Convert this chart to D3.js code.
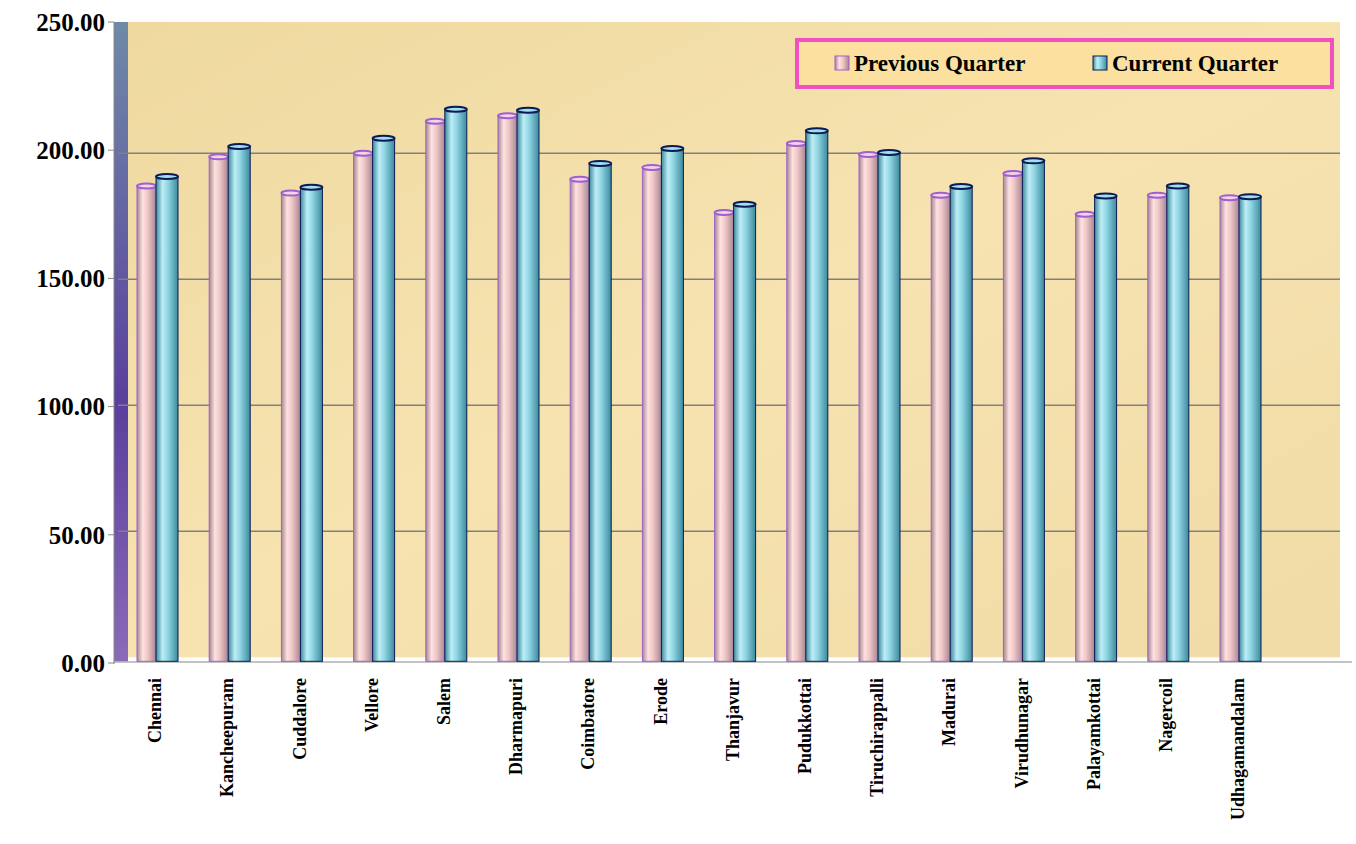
<!DOCTYPE html><html><head><meta charset="utf-8"><script src="https://cdn.jsdelivr.net/npm/d3@7"></script>
<style>body{margin:0;background:#fff}</style></head><body><svg id="c" width="1356" height="844"></svg>
<script>
const categories=["Chennai","Kancheepuram","Cuddalore","Vellore","Salem","Dharmapuri","Coimbatore","Erode","Thanjavur","Pudukkottai","Tiruchirappalli","Madurai","Virudhunagar","Palayamkottai","Nagercoil","Udhagamandalam"];
const previousQuarter=[187.0,198.6,184.2,200.0,212.7,214.9,189.7,194.4,176.5,203.9,199.5,183.4,192.0,175.8,183.4,182.4];
const currentQuarter=[190.8,202.7,186.5,206.0,217.5,217.1,196.0,201.9,179.8,208.9,200.3,186.8,197.0,183.1,187.0,182.8];
const yTicks=[0,50,100,150,200,250];
const seriesNames=["Previous Quarter","Current Quarter"];

const svg=d3.select("#c");
const defs=svg.append("defs");
const bg=defs.append("linearGradient").attr("id","bg").attr("x1",0).attr("y1",0).attr("x2",1).attr("y2",1);
bg.append("stop").attr("offset",0).attr("stop-color","#efd9a0");
bg.append("stop").attr("offset",0.5).attr("stop-color","#f6e3b0");
bg.append("stop").attr("offset",1).attr("stop-color","#f1dba6");
const wall=defs.append("linearGradient").attr("id","wall").attr("x1",0).attr("y1",0).attr("x2",0).attr("y2",1);
wall.append("stop").attr("offset",0).attr("stop-color","#6f8aa8");
wall.append("stop").attr("offset",0.6).attr("stop-color","#5a3f9e");
wall.append("stop").attr("offset",1).attr("stop-color","#8a6ab8");
function cyl(id,dark,mid,light){const g=defs.append("linearGradient").attr("id",id).attr("x1",0).attr("x2",1).attr("y1",0).attr("y2",0);
 [[0,dark],[0.3,light],[0.55,mid],[1,dark]].forEach(s=>g.append("stop").attr("offset",s[0]).attr("stop-color",s[1]));}
cyl("pk","#a88690","#f0c8c8","#fde2e0");
cyl("bl","#3b8a9c","#8fd4e2","#bdeef6");

const x0=118,yBot=657.3,step=72.2;
const x=d3.scaleBand().domain(categories).range([x0,x0+step*16]).paddingInner(0).paddingOuter(0);
const y=d3.scaleLinear().domain([0,250]).range([yBot,27.3]);
const yLab=d3.scaleLinear().domain([0,250]).range([663,22]);

svg.append("rect").attr("x",x0+10).attr("y",22).attr("width",1340-x0-10).attr("height",yBot-22).attr("fill","url(#bg)");
svg.append("rect").attr("x",x0-4).attr("y",22).attr("width",14).attr("height",yBot-18).attr("fill","url(#wall)");
svg.append("g").selectAll("line").data(yTicks.slice(1,5)).join("line")
 .attr("x1",x0).attr("x2",1340).attr("y1",d=>y(d)).attr("y2",d=>y(d)).attr("stroke","#808080").attr("stroke-width",1.5);
svg.append("line").attr("x1",x0-4).attr("x2",x0-4).attr("y1",22).attr("y2",664).attr("stroke","#888");
svg.append("line").attr("x1",x0-4).attr("x2",1352).attr("y1",662).attr("y2",662).attr("stroke","#888");
svg.append("g").selectAll("line").data(yTicks).join("line").attr("x1",x0-10).attr("x2",x0-4).attr("y1",d=>yLab(d)).attr("y2",d=>yLab(d)).attr("stroke","#888");
svg.append("g").selectAll("text").data(yTicks).join("text").attr("x",105).attr("y",d=>yLab(d)).attr("dy","0.35em")
 .attr("text-anchor","end").attr("font-family","Liberation Serif").attr("font-weight","bold").attr("font-size",25).text(d=>d.toFixed(2));
svg.append("g").selectAll("text").data(categories).join("text")
 .attr("transform",d=>`translate(${x(d)+x.bandwidth()/2+7},678) rotate(-90)`).attr("text-anchor","end")
 .attr("font-family","Liberation Serif").attr("font-weight","bold").attr("font-size",18).text(d=>d);

function bars(vals,off,w,fill,stroke){
 const g=svg.append("g");
 g.selectAll("rect").data(categories).join("rect").attr("x",d=>x(d)+off).attr("width",w)
  .attr("y",(d,i)=>y(vals[i])).attr("height",(d,i)=>yBot+4-y(vals[i])).attr("fill",fill).attr("stroke",stroke).attr("stroke-width",1);
 g.selectAll("ellipse").data(categories).join("ellipse").attr("cx",d=>x(d)+off+w/2).attr("cy",(d,i)=>y(vals[i]))
  .attr("rx",w/2).attr("ry",2.5).attr("fill",stroke==="#a060d0"?"#f4d4e4":"#9fe0ec").attr("stroke",stroke).attr("stroke-width",2);
}
bars(previousQuarter,19,19,"url(#pk)","#a060d0");
bars(currentQuarter,38,22,"url(#bl)","#0d1a55");

const lg=svg.append("g");
lg.append("rect").attr("x",797).attr("y",40).attr("width",535).attr("height",47).attr("fill","#fbe0a0").attr("stroke","#f050c0").attr("stroke-width",4);
seriesNames.forEach((n,i)=>{const lx=[835,1093][i];
 lg.append("rect").attr("x",lx).attr("y",56).attr("width",14).attr("height",14).attr("fill",i?"url(#bl)":"url(#pk)").attr("stroke",i?"#0d1a55":"#a060d0");
 lg.append("text").attr("x",lx+19).attr("y",71).attr("font-family","Liberation Serif").attr("font-weight","bold").attr("font-size",23).text(n);});
</script></body></html>
